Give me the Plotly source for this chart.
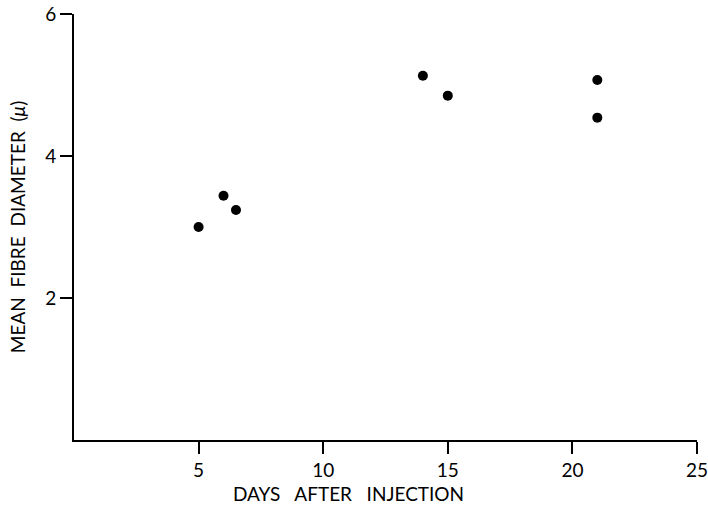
import plotly.graph_objects as go

days = [5, 6, 6.5, 14, 15, 21, 21]
diameter = [3.0, 3.44, 3.24, 5.13, 4.85, 5.07, 4.54]

x_ticks = [5, 10, 15, 20, 25]
y_ticks = [2, 4, 6]

fig = go.Figure()
fig.add_trace(go.Scatter(
    x=days, y=diameter, mode="markers",
    marker=dict(color="black", size=10),
    showlegend=False, cliponaxis=False,
))

font_family = "Lato, 'DejaVu Sans', sans-serif"
nb = "\u00a0"
fig.update_layout(
    width=708, height=511,
    margin=dict(l=74, r=11, t=14, b=71),
    paper_bgcolor="white", plot_bgcolor="white",
    font=dict(family=font_family, color="black"),
    xaxis=dict(
        range=[0, 25], tickvals=x_ticks, ticktext=[str(v) for v in x_ticks],
        showgrid=False, zeroline=False, showline=True, linecolor="black", linewidth=2,
        ticks="outside", ticklen=12, tickwidth=1.5, tickcolor="black",
        tickfont=dict(size=19), automargin="height", ticklabeloverflow="allow",
    ),
    yaxis=dict(
        range=[0, 6], tickvals=y_ticks, ticktext=[str(v) for v in y_ticks],
        showgrid=False, zeroline=False, showline=True, linecolor="black", linewidth=2,
        ticks="outside", ticklen=12, tickwidth=1.5, tickcolor="black",
        tickfont=dict(size=19), automargin="width", ticklabeloverflow="allow",
        title=dict(text=f"MEAN{nb*2}FIBRE{nb*2}DIAMETER{nb*2}(<i>μ</i>)", font=dict(size=19)),
    ),
    annotations=[dict(
        text=f"DAYS{nb*3}AFTER{nb*3}INJECTION", font=dict(size=19),
        xref="paper", yref="paper", x=0.44, y=-0.125,
        xanchor="center", yanchor="middle", showarrow=False,
    )],
)

fig.write_html("out.html")
